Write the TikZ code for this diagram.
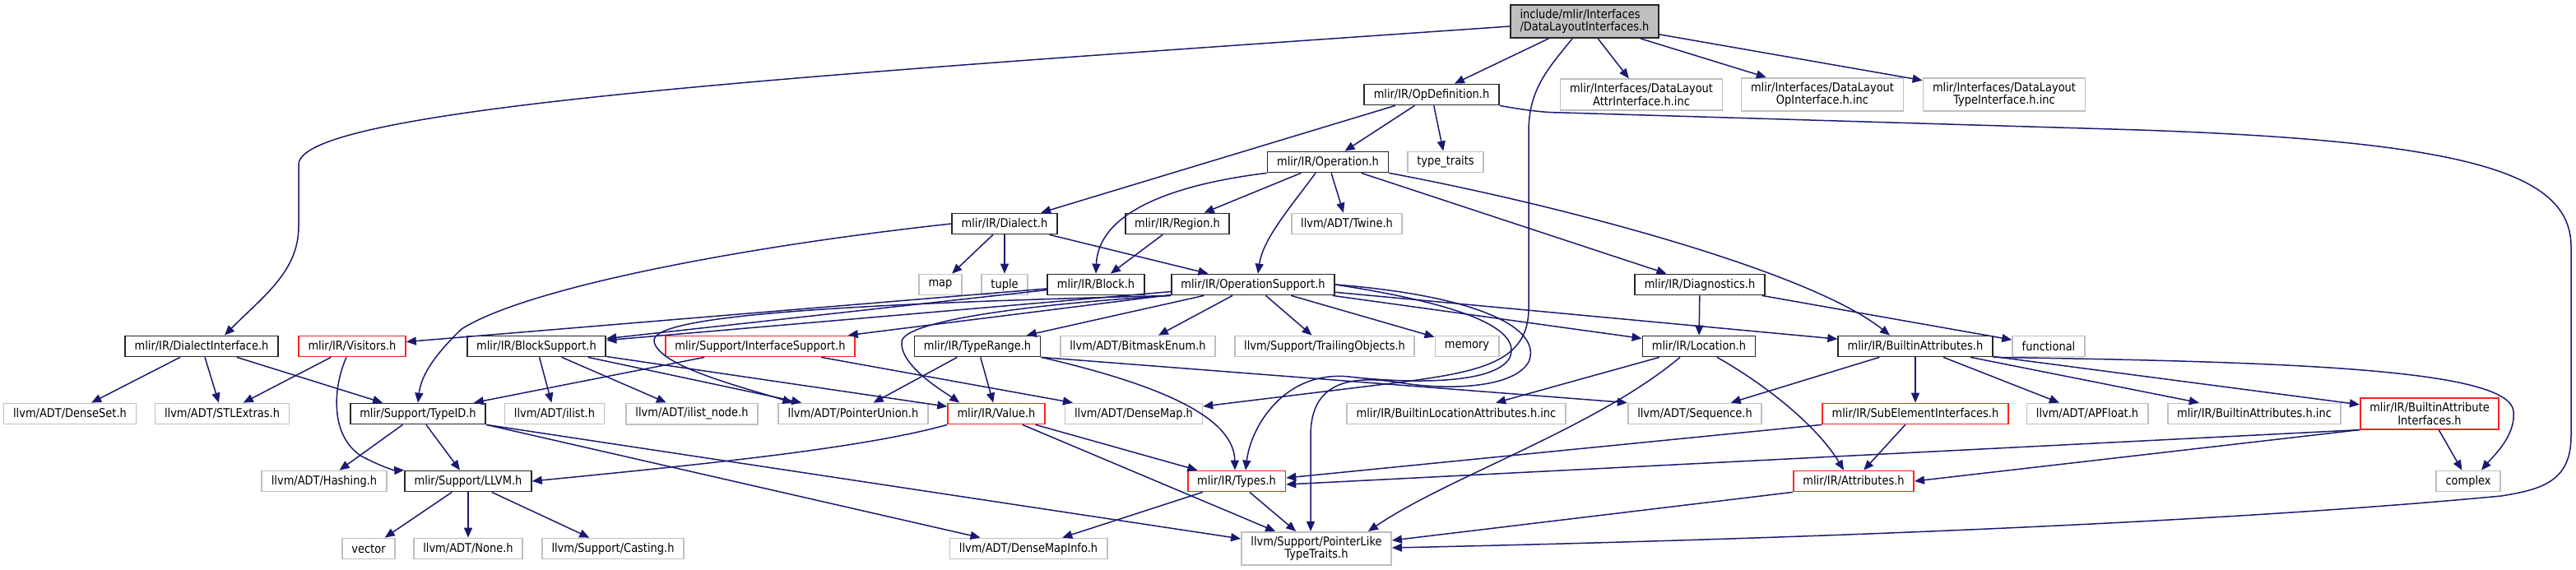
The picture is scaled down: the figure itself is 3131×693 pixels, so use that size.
\documentclass[tikz,border=0pt]{standalone}
\usepackage{fontspec}
\setmainfont{DejaVu Sans}[FakeStretch=0.88]
\usepackage{tikz}
\usetikzlibrary{arrows.meta,calc}
\definecolor{edgeblue}{HTML}{191970}
\definecolor{sysgray}{HTML}{BFBFBF}
\definecolor{truncred}{HTML}{FF2020}
\definecolor{rootfill}{HTML}{BFBFBF}

\begin{document}
\begin{tikzpicture}[x=0.02cm, y=-0.02cm, font=\fontsize{8.4}{8.8}\selectfont]
  \useasboundingbox (0,0) rectangle (3131,693);
  \tikzset{incbox/.style={draw, rectangle, align=center, fill=white, inner xsep=0.23cm, inner ysep=3pt, minimum height=0.5cm, line width=1pt},
    hdr/.style={incbox, draw=black!85},
    sys/.style={incbox, draw=sysgray},
    trunc/.style={incbox, draw=truncred},
    rootbox/.style={incbox, draw=black!85, fill=rootfill, align=left},
    dep/.style={edgeblue, line width=0.85pt, -{Triangle[length=0.24cm, width=0.2cm]}}}
  % include graph of DataLayoutInterfaces.h, one row of files after the other
  \foreach \n/\s/\x/\y/\t in {
    root/rootbox/1926/26/{include/mlir/Interfaces\\/DataLayoutInterfaces.h},
    opdef/hdr/1740/115/{mlir/IR/OpDefinition.h}, attrinc/sys/1995/115/{mlir/Interfaces/DataLayout\\AttrInterface.h.inc},
    opinc/sys/2215/115/{mlir/Interfaces/DataLayout\\OpInterface.h.inc}, typeinc/sys/2436/115/{mlir/Interfaces/DataLayout\\TypeInterface.h.inc},
    operation/hdr/1614/197/{mlir/IR/Operation.h}, typetraits/sys/1757/197/{type\_traits},
    dialect/hdr/1221/272/{mlir/IR/Dialect.h}, region/hdr/1431/272/{mlir/IR/Region.h}, twine/sys/1637/272/{llvm/ADT/Twine.h},
    map/sys/1143/346/{map}, tuple/sys/1221/346/{tuple}, block/hdr/1332/346/{mlir/IR/Block.h},
    opsupport/hdr/1523/346/{mlir/IR/OperationSupport.h}, diagnostics/hdr/2066/346/{mlir/IR/Diagnostics.h},
    dialectif/hdr/245/421/{mlir/IR/DialectInterface.h}, visitors/trunc/428/421/{mlir/IR/Visitors.h},
    blocksupport/hdr/652/421/{mlir/IR/BlockSupport.h}, ifsupport/trunc/924/421/{mlir/Support/InterfaceSupport.h},
    typerange/hdr/1188/421/{mlir/IR/TypeRange.h}, bitmask/sys/1383/421/{llvm/ADT/BitmaskEnum.h},
    trailing/sys/1610/421/{llvm/Support/TrailingObjects.h}, memory/sys/1783/421/{memory},
    location/hdr/2065/421/{mlir/IR/Location.h}, builtinattr/hdr/2328/421/{mlir/IR/BuiltinAttributes.h},
    functional/sys/2490/421/{functional},
    denseset/sys/85/503/{llvm/ADT/DenseSet.h}, stlextras/sys/270/503/{llvm/ADT/STLExtras.h},
    typeid/hdr/508/503/{mlir/Support/TypeID.h}, ilist/sys/674/503/{llvm/ADT/ilist.h},
    ilistnode/sys/841/503/{llvm/ADT/ilist\_node.h}, pointerunion/sys/1037/503/{llvm/ADT/PointerUnion.h},
    value/trunc/1211/503/{mlir/IR/Value.h}, densemap/sys/1378/503/{llvm/ADT/DenseMap.h},
    builtinlocinc/sys/1770/503/{mlir/IR/BuiltinLocationAttributes.h.inc}, sequence/sys/2060/503/{llvm/ADT/Sequence.h},
    subelem/trunc/2328/503/{mlir/IR/SubElementInterfaces.h}, apfloat/sys/2537/503/{llvm/ADT/APFloat.h},
    builtinattrinc/sys/2740/503/{mlir/IR/BuiltinAttributes.h.inc}, builtinattrif/trunc/2953/503/{mlir/IR/BuiltinAttribute\\Interfaces.h},
    hashing/sys/394/585/{llvm/ADT/Hashing.h}, llvm/hdr/569/585/{mlir/Support/LLVM.h},
    types/trunc/1503/585/{mlir/IR/Types.h}, attributes/trunc/2253/585/{mlir/IR/Attributes.h}, complex/sys/3000/585/{complex},
    vector/sys/448/667/{vector}, none/sys/569/667/{llvm/ADT/None.h}, casting/sys/745/667/{llvm/Support/Casting.h},
    densemapinfo/sys/1250/667/{llvm/ADT/DenseMapInfo.h}, pointerlike/sys/1600/667/{llvm/Support/PointerLike\\TypeTraits.h}} {
    \node[\s] (\n) at (\x,\y) {\t};
  }
  \foreach \a/\b in {root/opdef, root/attrinc, root/opinc, root/typeinc,
    opdef/dialect, opdef/operation, opdef/typetraits,
    operation/region, operation/twine, operation/diagnostics,
    dialect/map, dialect/tuple, dialect/opsupport, region/block,
    block/blocksupport, block/visitors,
    opsupport/blocksupport, opsupport/ifsupport, opsupport/typerange, opsupport/bitmask,
    opsupport/trailing, opsupport/memory, opsupport/location, opsupport/builtinattr,
    diagnostics/location, diagnostics/functional,
    dialectif/denseset, dialectif/stlextras, dialectif/typeid, visitors/stlextras,
    blocksupport/ilist, blocksupport/ilistnode, blocksupport/pointerunion, blocksupport/value,
    ifsupport/typeid, ifsupport/densemap, typerange/pointerunion, typerange/value,
    value/types, value/pointerlike, typeid/hashing, typeid/llvm,
    llvm/vector, llvm/none, llvm/casting, types/densemapinfo, types/pointerlike,
    location/builtinlocinc, builtinattr/sequence, builtinattr/subelem, builtinattr/apfloat,
    builtinattr/builtinattrinc, builtinattr/builtinattrif, subelem/attributes, builtinattrif/complex} {
    \draw[dep] (\a) -- (\b);
  }
  \draw[dep] ($(root.west)+(0,6)$) .. controls (1000,90) and (363,130) .. (363,200) -- (363,275)
    .. controls (363,330) and (320,360) .. ($(dialectif.north)+(28,0)$);
  \draw[dep] (opdef.south east) .. controls (1860,135) and (1880,137) .. (1900,137) -- (2600,158)
    .. controls (3000,172) and (3125,210) .. (3125,300) -- (3125,530)
    .. controls (3125,585) and (3090,595) .. (3040,603)
    .. controls (2700,635) and (2200,655) .. ($(pointerlike.east)+(0,-1)$);
  \draw[dep] ($(root.south)+(-15,0)$) .. controls (1880,85) and (1858,110) .. (1858,160) -- (1858,375)
    .. controls (1858,440) and (1800,452) .. (1700,465) -- ($(densemap.east)+(0,-9)$);
  \draw[dep] (operation.south west) .. controls (1420,225) and (1335,260) .. (block.north);
  \draw[dep] ($(operation.south)+(-15,0)$) .. controls (1570,250) and (1535,290) .. ($(opsupport.north)+(6,0)$);
  \draw[dep] (operation.south east) .. controls (1900,250) and (2200,330) .. ($(builtinattr.north)+(-31,0)$);
  \draw[dep] (dialect.west) .. controls (900,300) and (640,350) .. (561,400)
    .. controls (530,430) and (512,455) .. (typeid.north);
  \draw[dep] (opsupport.south west) .. controls (1000,370) and (790,385) .. (795,415)
    .. controls (800,445) and (900,470) .. ($(pointerunion.north west)+(18,0)$);
  \draw[dep] (opsupport.south west) .. controls (1250,370) and (1100,390) .. (1096,415)
    .. controls (1093,445) and (1150,478) .. ($(value.north west)+(15,0)$);
  \draw[dep] (opsupport.east) .. controls (1780,370) and (1850,400) .. (1835,435)
    .. controls (1815,470) and (1700,465) .. (1640,458)
    .. controls (1560,450) and (1520,520) .. ($(types.north)+(11,0)$);
  \draw[dep] (opsupport.east) .. controls (1800,360) and (1875,400) .. (1858,440)
    .. controls (1840,472) and (1760,475) .. (1700,465)
    .. controls (1620,452) and (1593,480) .. (1593,530) -- ($(pointerlike.north)+(-7,0)$);
  \draw[dep] ($(visitors.south)+(-7,0)$) .. controls (405,470) and (400,530) .. (440,555)
    .. controls (465,568) and (480,572) .. (llvm.north west);
  \draw[dep] (typerange.south east) .. controls (1420,470) and (1500,510) .. ($(types.north)+(-2,0)$);
  \draw[dep] (typerange.south east) -- (sequence.north west);
  \draw[dep] (value.south west) .. controls (1050,545) and (850,565) .. (llvm.east);
  \draw[dep] ($(location.south)+(-23,0)$) .. controls (1940,520) and (1760,580) .. ($(pointerlike.north east)+(-29,0)$);
  \draw[dep] ($(location.south)+(22,0)$) .. controls (2150,470) and (2210,520) .. ($(attributes.north)+(-12,0)$);
  \draw[dep] (builtinattr.south east) .. controls (2800,440) and (3050,450) .. (3055,500)
    .. controls (3058,530) and (3030,555) .. ($(complex.north)+(16,0)$);
  \draw[dep] (subelem.south west) -- ($(types.east)+(0,-4)$);
  \draw[dep] (builtinattrif.south west) -- ($(types.east)+(0,4)$);
  \draw[dep] (builtinattrif.south west) -- (attributes.east);
  \draw[dep] (attributes.south west) -- ($(pointerlike.east)+(0,-10)$);
  \draw[dep] (typeid.south east) -- ($(densemapinfo.north west)+(38,0)$);
  \draw[dep] (typeid.south east) -- ($(pointerlike.west)+(0,-12)$);
\end{tikzpicture}
\end{document}
